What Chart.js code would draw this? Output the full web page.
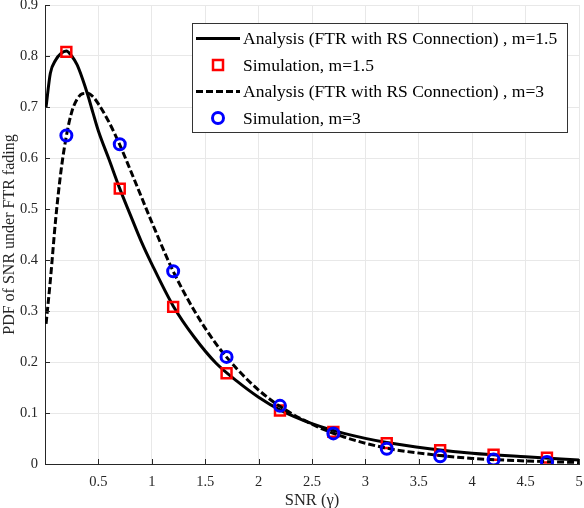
<!DOCTYPE html>
<html>
<head>
<meta charset="utf-8">
<script src="https://cdn.jsdelivr.net/npm/chart.js@4"></script>
<style>
  html, body { margin: 0; padding: 0; background: #fff; }
  #wrap { width: 584px; height: 508px; }
</style>
</head>
<body>
<div id="wrap"><canvas id="pdf-chart"></canvas></div>
<script>
// analysis curves
const xCurve = [0.01, 0.05, 0.1, 0.15, 0.2, 0.25, 0.3, 0.35, 0.4, 0.45, 0.5, 0.6, 0.7, 0.8, 0.9, 1.0,
    1.2, 1.4, 1.6, 1.8, 2.0, 2.2, 2.5, 2.8, 3.2, 3.6, 4.0, 4.5, 5.0];
const pdfM15 = [0.70, 0.766, 0.792, 0.805, 0.81, 0.80, 0.783, 0.756, 0.724, 0.688, 0.653, 0.597, 0.54, 0.488, 0.437, 0.392,
    0.31, 0.248, 0.198, 0.162, 0.131, 0.106, 0.079, 0.060, 0.042, 0.030, 0.021, 0.014, 0.008];
const pdfM3 = [0.275, 0.36, 0.48, 0.575, 0.643, 0.69, 0.715, 0.726, 0.727, 0.72, 0.706, 0.67, 0.626, 0.576, 0.525, 0.474,
    0.378, 0.30, 0.236, 0.186, 0.145, 0.113, 0.078, 0.053, 0.031, 0.019, 0.011, 0.006, 0.003];

// simulation points
const xSim = [0.2, 0.7, 1.2, 1.7, 2.2, 2.7, 3.2, 3.7, 4.2, 4.7];
const simM15 = [0.808, 0.54, 0.308, 0.178, 0.105, 0.063, 0.041, 0.027, 0.018, 0.0125];
const simM3 = [0.644, 0.627, 0.378, 0.21, 0.114, 0.06, 0.03, 0.015, 0.0086, 0.004];

const labels = [
    "Analysis (FTR with RS Connection) , m=1.5",
    "Simulation, m=1.5",
    "Analysis (FTR with RS Connection) , m=3",
    "Simulation, m=3",
];

const FONT = "'Liberation Serif', 'Times New Roman', serif";
const pts = (xs, ys) => xs.map((x, i) => ({ x: x, y: ys[i] }));

// inward tick marks, matlab style
const inTicks = {
    id: "inTicks",
    afterDatasetsDraw(chart) {
        const { ctx, chartArea, scales } = chart;
        ctx.save();
        ctx.strokeStyle = "#262626";
        ctx.lineWidth = 1;
        ctx.beginPath();
        scales.x.ticks.forEach((t) => {
            const px = Math.round(scales.x.getPixelForValue(t.value)) + 0.5;
            ctx.moveTo(px, chartArea.bottom);
            ctx.lineTo(px, chartArea.bottom - 5);
        });
        scales.y.ticks.forEach((t) => {
            const py = Math.round(scales.y.getPixelForValue(t.value)) + 0.5;
            ctx.moveTo(chartArea.left, py);
            ctx.lineTo(chartArea.left + 5, py);
        });
        ctx.stroke();
        ctx.restore();
    },
};

// legend box inside the axes, top right
const boxLegend = {
    id: "boxLegend",
    afterDraw(chart) {
        const { ctx, chartArea } = chart;
        const sets = chart.data.datasets;
        const right = chartArea.right - 12;
        const left = right - 375;
        const top = chartArea.top + 18;
        const rowH = 26.5;
        const h = 109;
        ctx.save();
        ctx.fillStyle = "#fff";
        ctx.fillRect(left, top, right - left, h);
        ctx.strokeStyle = "#333";
        ctx.lineWidth = 1;
        ctx.strokeRect(Math.round(left) + 0.5, Math.round(top) + 0.5, right - left, h);
        ctx.font = "17.5px " + FONT;
        ctx.textBaseline = "middle";
        sets.forEach((ds, i) => {
            const cy = top + 15.5 + i * rowH;
            if (ds.showLine) {
                ctx.strokeStyle = ds.borderColor;
                ctx.lineWidth = ds.borderWidth;
                ctx.setLineDash(ds.borderDash || []);
                ctx.beginPath();
                ctx.moveTo(left + 4, cy);
                ctx.lineTo(left + 48, cy);
                ctx.stroke();
                ctx.setLineDash([]);
            } else {
                ctx.strokeStyle = ds.pointBorderColor;
                ctx.lineWidth = ds.pointBorderWidth;
                ctx.beginPath();
                if (ds.pointStyle === "rect") {
                    ctx.rect(left + 21, cy - 5, 10, 10);
                } else {
                    ctx.arc(left + 26, cy, 5.5, 0, Math.PI * 2);
                }
                ctx.stroke();
            }
            ctx.fillStyle = "#000";
            ctx.fillText(labels[i], left + 51, cy + 1);
        });
        ctx.restore();
    },
};

new Chart(document.getElementById("pdf-chart"), {
    type: "scatter",
    data: {
        datasets: [
            {
                label: labels[0],
                data: pts(xCurve, pdfM15),
                showLine: true,
                borderColor: "#000",
                borderWidth: 3,
                pointRadius: 0,
                cubicInterpolationMode: "monotone",
                order: 4,
            },
            {
                label: labels[1],
                data: pts(xSim, simM15),
                showLine: false,
                pointStyle: "rect",
                pointRadius: 7,
                pointBorderColor: "#ff0000",
                pointBackgroundColor: "rgba(0,0,0,0)",
                pointBorderWidth: 2.5,
                order: 3,
            },
            {
                label: labels[2],
                data: pts(xCurve, pdfM3),
                showLine: true,
                borderColor: "#000",
                borderWidth: 3,
                borderDash: [7, 3],
                pointRadius: 0,
                cubicInterpolationMode: "monotone",
                order: 2,
            },
            {
                label: labels[3],
                data: pts(xSim, simM3),
                showLine: false,
                pointStyle: "circle",
                pointRadius: 5.5,
                pointBorderColor: "#0000ff",
                pointBackgroundColor: "rgba(0,0,0,0)",
                pointBorderWidth: 3,
                order: 1,
            },
        ],
    },
    options: {
        responsive: true,
        maintainAspectRatio: false,
        animation: false,
        layout: {
            autoPadding: false,
            padding: { left: 0, right: 5, top: 5, bottom: 0 },
        },
        scales: {
            x: {
                type: "linear",
                min: 0,
                max: 5,
                afterFit(scale) {
                    scale.height = 44;
                    scale.paddingLeft = 0;
                    scale.paddingRight = 0;
                },
                ticks: {
                    stepSize: 0.5,
                    padding: 9,
                    color: "#262626",
                    font: { family: FONT, size: 14.5 },
                    callback: (v) => (v === 0 ? "" : v),
                },
                grid: {
                    color: "#e8e8e8",
                    drawTicks: false,
                },
                border: { color: "#262626", width: 1 },
                title: {
                    display: true,
                    text: "SNR (γ)",
                    color: "#262626",
                    font: { family: FONT, size: 16.5 },
                    padding: { top: 0, bottom: -3 },
                },
            },
            y: {
                min: 0,
                max: 0.9,
                afterFit(scale) {
                    scale.width = 45;
                    scale.paddingTop = 0;
                    scale.paddingBottom = 0;
                },
                ticks: {
                    stepSize: 0.1,
                    padding: 7,
                    color: "#262626",
                    font: { family: FONT, size: 14.5 },
                },
                grid: {
                    color: "#e8e8e8",
                    drawTicks: false,
                },
                border: { color: "#262626", width: 1 },
                title: {
                    display: true,
                    text: "PDF of SNR under FTR fading",
                    color: "#262626",
                    font: { family: FONT, size: 16 },
                    padding: { top: 0, bottom: 2 },
                },
            },
        },
        plugins: {
            legend: { display: false },
            tooltip: { enabled: false },
        },
    },
    plugins: [inTicks, boxLegend],
});
</script>
</body>
</html>
